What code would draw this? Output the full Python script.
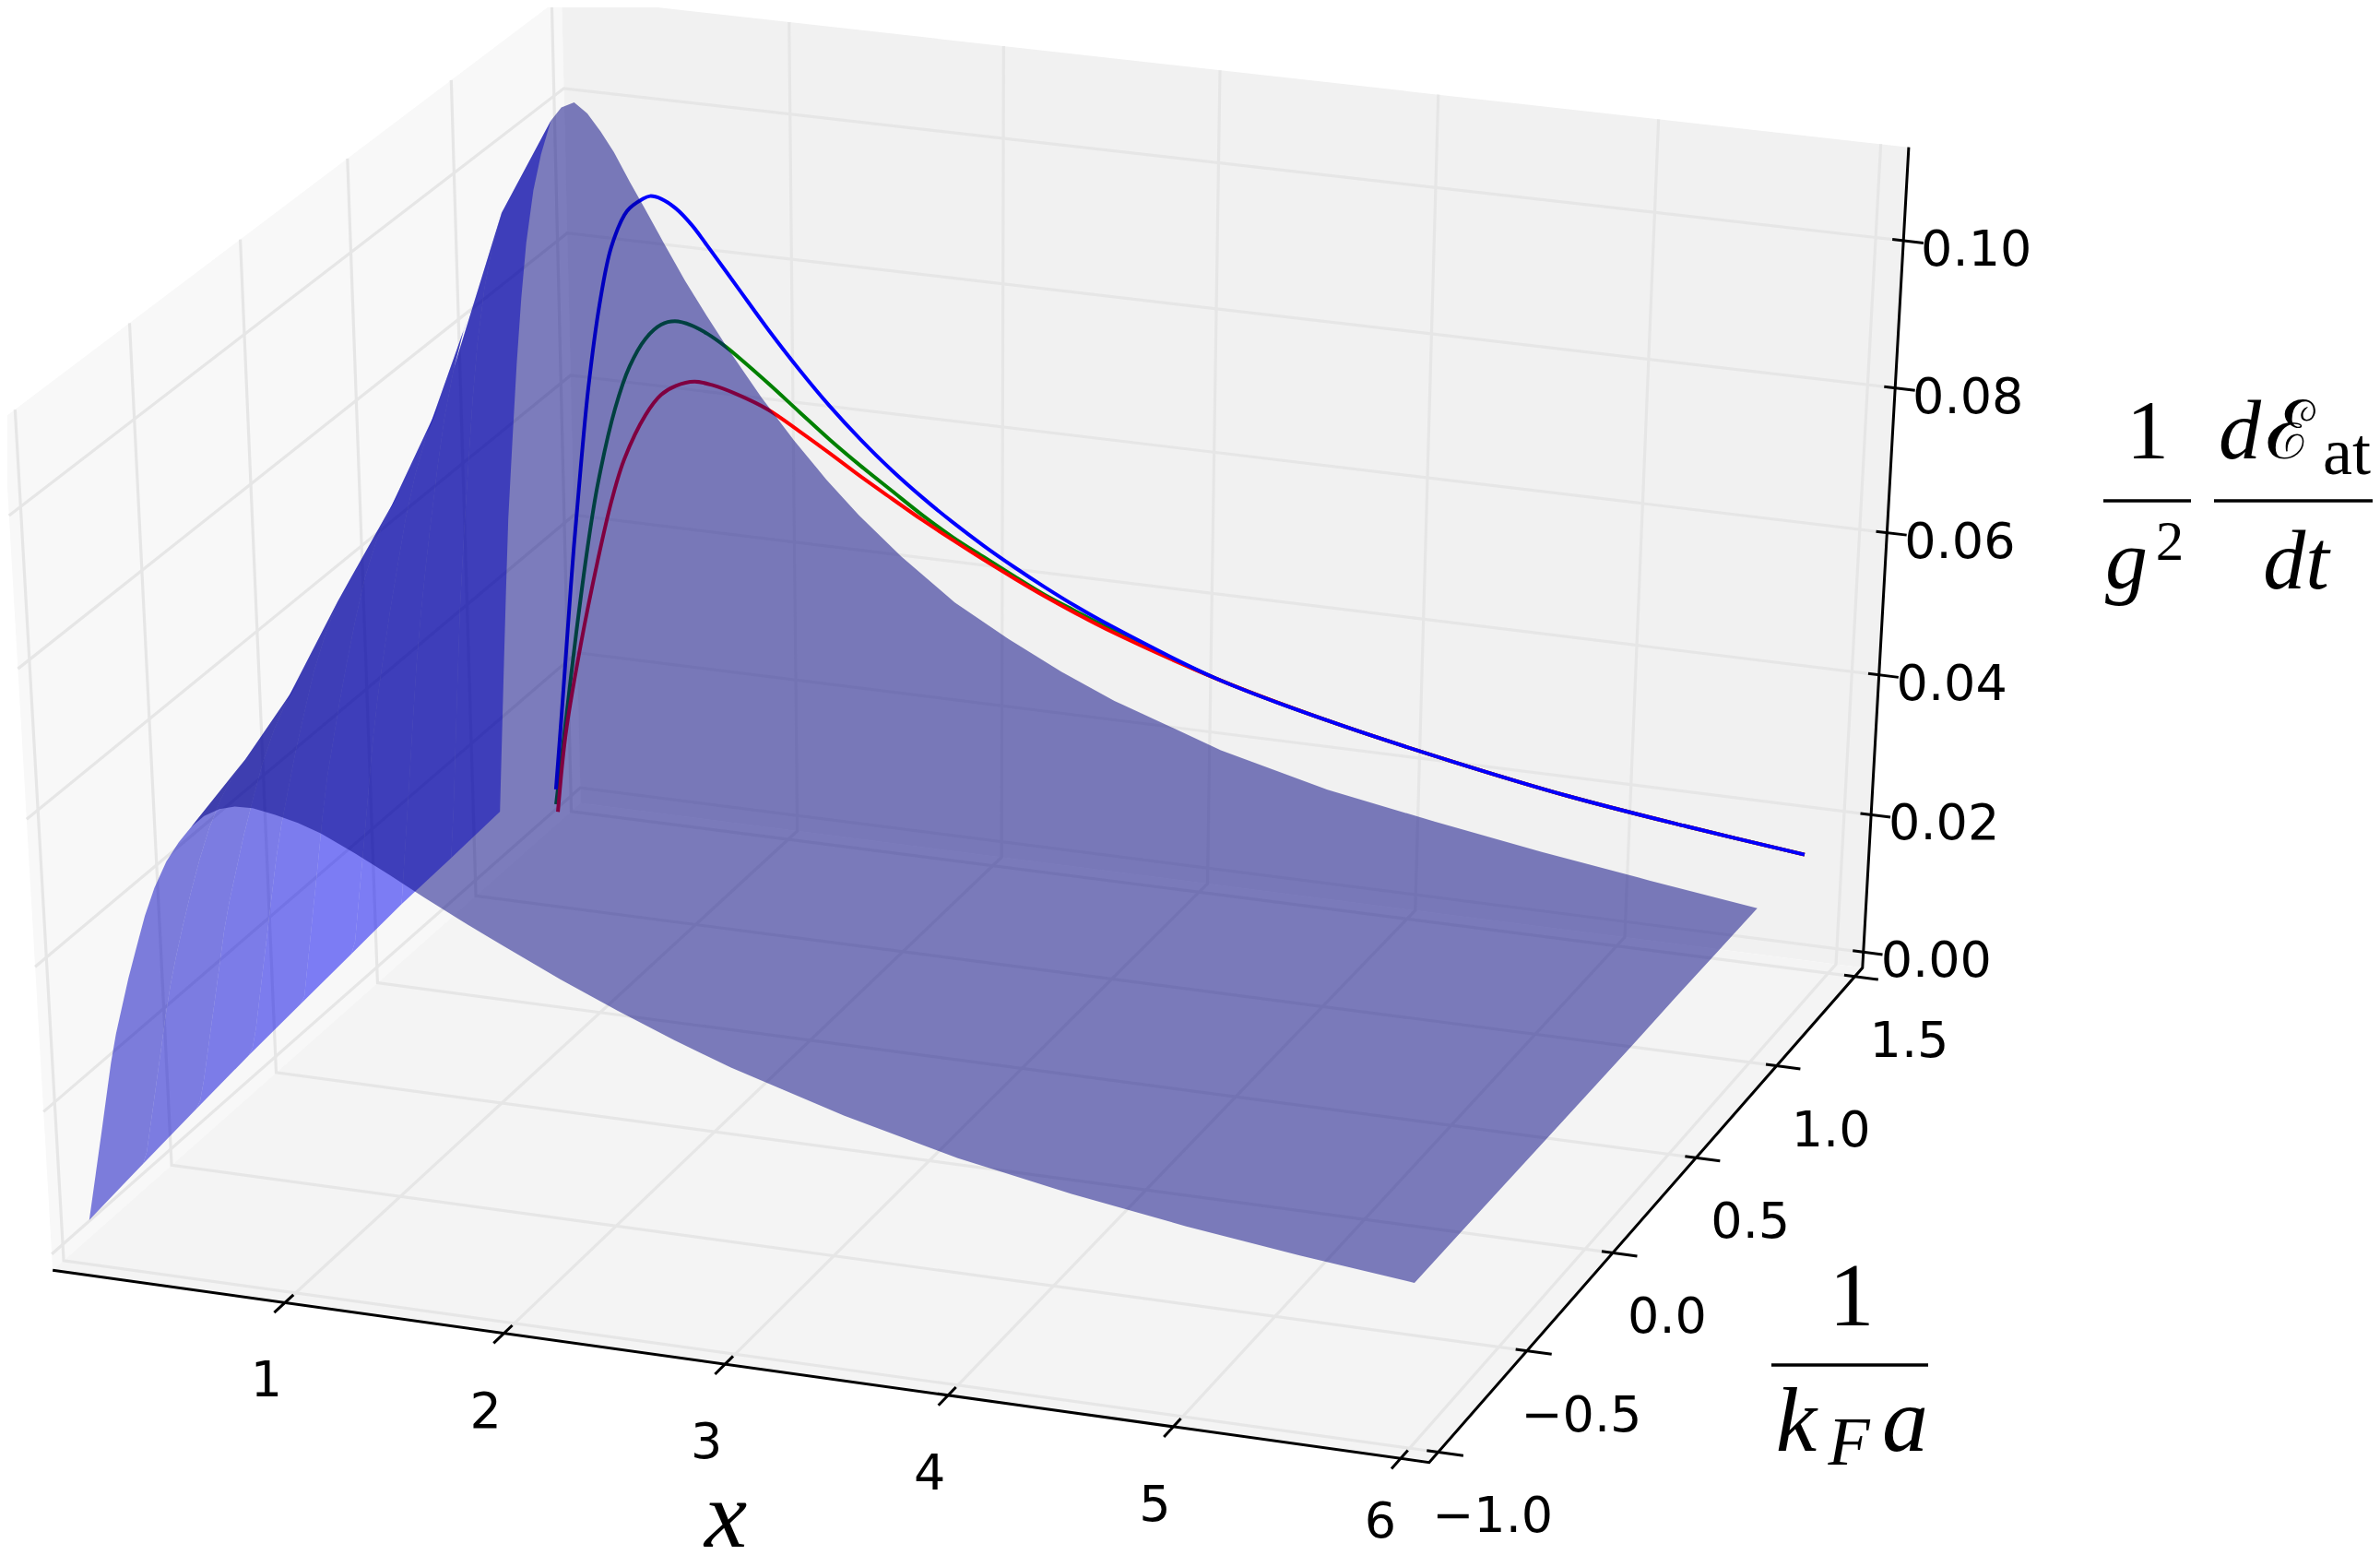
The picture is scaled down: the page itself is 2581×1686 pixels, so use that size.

import numpy as np, pandas as pd, altair as alt

# ---------- data ----------
X_NODES = [0.06,0.08,0.10,0.12,0.14,0.17,0.20,0.23,0.26,0.30,0.34,0.39,0.44,0.50,0.56,0.62,0.68,0.75,0.82,0.90,1.0,1.1,1.2,1.35,1.5,1.65,1.8,2.0,2.25,2.5,2.75,3.0,3.5,4,4.5,5,5.5,6]
Y_ROWS = [-1,-0.75,-0.5,-0.25,0,0.25,0.5,0.75,1]
Z_M1   = [4.0,7.2,10.4,13.6,16.8,21.7,26.6,30.7,34.1,38.6,42.6,47.5,51.5,55.3,58.1,60.4,62.1,63.3,63.9,64.0,63.5,62.8,61.8,59.7,57.4,55.0,52.7,49.8,46.3,43.1,40.1,37.4,32.9,29.2,26.4,24.1,22.2,20.6]
Z_M075 = [5.2,7.0,10.3,13.5,16.8,21.7,26.7,31.1,34.9,39.5,43.8,48.8,53.2,57.5,60.8,63.3,65.4,67.1,68.0,68.5,68.3,67.3,65.8,63.0,60.0,56.8,53.8,50.2,46.3,43.0,39.9,37.3,32.7,29.2,26.4,24.2,22.1,20.5]
Z_M05  = [6.3,7.6,10.3,13.6,17.0,22.0,27.1,32.2,36.3,41.0,45.7,50.9,55.9,60.7,64.7,67.6,70.0,72.2,73.5,74.3,74.6,73.0,71.0,67.2,62.8,58.5,55.0,50.6,46.4,43.0,39.9,37.2,32.6,29.1,26.4,24.2,22.0,20.4]
Z_M025 = [7.3,8.5,11.4,15.2,19.0,24.6,30.3,35.9,40.6,45.8,51.0,56.8,62.4,67.7,72.2,75.4,78.1,80.6,82.0,82.9,83.2,81.0,78.0,72.5,67.0,62.0,57.5,51.5,46.7,43.2,40.1,37.2,32.5,29.1,26.4,24.1,22.0,20.3]
Z_0    = [8.1,9.3,13.6,17.8,22.2,28.6,35.3,41.0,45.5,51.5,57.0,63.4,69.2,74.5,78.5,81.8,84.3,86.3,87.3,87.7,87.2,84.0,80.0,73.5,67.5,62.0,57.6,52.2,47.1,43.4,40.2,37.2,32.5,29.1,26.4,24.1,22.0,20.2]
Z_P025 = [8.9,10.8,15.6,20.4,25.2,32.6,39.9,46.0,51.2,57.9,63.9,71.3,77.3,83.0,87.2,90.6,93.2,95.0,95.9,96.0,94.0,89.5,84.5,77.0,70.0,64.0,59.0,53.0,47.5,43.5,40.3,37.3,32.5,29.0,26.3,24.1,21.9,20.1]
Z_P05  = [9.7,16.0,22.2,28.5,35.0,44.2,51.8,58.4,64.5,72.3,79.2,86.0,91.2,96.0,99.5,101.4,102.2,102.4,101.6,99.0,94.5,89.5,85.0,78.0,71.0,65.5,60.0,53.5,48.0,43.8,40.5,37.3,32.5,29.0,26.4,24.1,21.9,20.1]
Z_P075 = [10.1,17.7,27.4,37.0,46.2,56.9,66.4,75.7,83.4,91.0,96.5,101.5,104.6,106.9,107.6,108.0,107.4,105.5,102.8,99.0,92.0,86.5,81.5,75.0,69.0,63.8,59.0,53.4,48.4,44.1,40.7,37.5,32.6,29.0,26.4,24.1,21.9,20.0]
Z_P1   = [10.6,21.5,32.4,43.0,53.0,64.1,74.8,84.0,91.6,98.9,103.9,108.6,110.5,111.4,110.1,107.9,105.3,101.6,98.1,94.0,89.0,84.5,80.2,74.2,68.8,63.9,59.5,54.4,48.9,44.7,41.0,37.8,32.7,29.0,26.4,24.0,21.9,19.9]

CURVE_Y = 1.3
BLUE_X = [0.048,0.085,0.120,0.164,0.208,0.252,0.314,0.376,0.454,0.529,0.564,0.616,0.685,0.758,0.830,0.971,1.112,1.258,1.401,1.544,1.691,1.835,1.979,2.127,2.272,2.416,2.565,2.709,3.230,3.784,4.341,4.893,5.446,5.997]
BLUE_Z = [6.4,17.5,28.5,42.0,54.0,65.0,76.8,85.0,90.2,92.1,92.6,92.4,91.3,89.3,86.7,81.4,76.1,71.0,66.4,62.3,58.5,55.2,52.2,49.4,46.9,44.6,42.4,40.5,34.6,30.4,27.0,24.1,21.9,20.0]
GREEN_X = [0.047,0.097,0.165,0.231,0.287,0.378,0.452,0.530,0.605,0.671,0.750,0.824,0.910,0.967,1.109,1.256,1.400,1.543,1.691,1.835,1.979,2.127,2.272,2.416,2.565,2.709,3.230,3.784,4.341,4.893,5.446,5.997]
GREEN_Z = [4.2,15.0,29.5,42.3,51.5,62.5,68.7,72.8,75.0,75.7,75.4,74.5,73.0,71.8,68.6,65.1,61.7,58.6,55.6,52.7,50.1,47.8,45.6,43.5,41.7,40.0,34.6,30.4,27.0,24.1,21.9,20.0]
RED_X = [0.055,0.103,0.186,0.278,0.352,0.417,0.523,0.599,0.670,0.759,0.846,0.964,1.108,1.255,1.399,1.543,1.691,1.835,1.979,2.128,2.272,2.416,2.565,2.709,3.230,3.784,4.341,4.893,5.446,5.997]
RED_Z = [3.1,14.8,28.0,40.5,49.4,55.5,62.1,65.2,66.7,67.6,67.4,66.5,64.9,62.4,59.8,57.1,54.5,52.0,49.7,47.4,45.3,43.3,41.4,39.7,34.6,30.4,27.0,24.1,21.9,20.0]

X_TICKS = [1,2,3,4,5,6]
Y_TICKS = [-1,-0.5,0,0.5,1,1.5]
Z_TICKS = [0,0.02,0.04,0.06,0.08,0.10]
Y_LABELS = ["\u22121.0","\u22120.5","0.0","0.5","1.0","1.5"]
Z_LABELS = ["0.00","0.02","0.04","0.06","0.08","0.10"]
XL,XH,YL,YH,ZL,ZH = -0.07,6.125,-1.05,1.55,-0.0023,0.1125

# camera of the 3D box
CAM = np.array([[226.637138,232.868044,-452.823569,314.703321],
                [25.640463,-161.682622,-7991.760865,1147.889764],
                [-0.004374,0.031029,-0.43441,1.0]])
def proj(x,y,z):
    h = CAM @ np.array([x,y,z,1.0])
    return float(h[0]/h[2]), float(h[1]/h[2])

W,H = 2573,1678
sx = alt.Scale(domain=[8,W],nice=False,zero=False)
sy = alt.Scale(domain=[H,8],nice=False,zero=False)
ex = alt.X('u:Q',scale=sx,axis=None)
ey = alt.Y('v:Q',scale=sy,axis=None)

def poly_rows(polys):
    rows=[]
    for k,(pts,c) in enumerate(polys):
        for i,(u,v) in enumerate(pts):
            rows.append(dict(u=u,v=v,i=i,id=k,c=c))
    return pd.DataFrame(rows)

def fill_layer(polys,op):
    return alt.Chart(poly_rows(polys)).mark_line(interpolate='linear-closed',strokeWidth=0,strokeOpacity=0,fillOpacity=op).encode(
        x=ex,y=ey,order=alt.Order('i:Q'),detail='id:N',fill=alt.Fill('c:N',scale=None))

def line_layer(paths,color,width,interp='linear'):
    rows=[]
    for k,pts in enumerate(paths):
        for i,(u,v) in enumerate(pts):
            rows.append(dict(u=u,v=v,i=i,id=k))
    return alt.Chart(pd.DataFrame(rows)).mark_line(color=color,strokeWidth=width,interpolate=interp,strokeCap='butt').encode(
        x=ex,y=ey,order=alt.Order('i:Q'),detail='id:N')

panes = [
 ([proj(XL,YL,ZL),proj(XL,YH,ZL),proj(XL,YH,ZH),proj(XL,YL,ZH)],'#f8f8f8'),
 ([proj(XL,YH,ZL),proj(XH,YH,ZL),proj(XH,YH,ZH),proj(XL,YH,ZH)],'#f1f1f1'),
 ([proj(XL,YL,ZL),proj(XH,YL,ZL),proj(XH,YH,ZL),proj(XL,YH,ZL)],'#f4f4f4'),
]
grid=[]
for x in X_TICKS:
    grid.append([proj(x,YL,ZL),proj(x,YH,ZL),proj(x,YH,ZH)])
for y in Y_TICKS:
    grid.append([proj(XH,y,ZL),proj(XL,y,ZL),proj(XL,y,ZH)])
for z in Z_TICKS:
    grid.append([proj(XL,YL,z),proj(XL,YH,z),proj(XH,YH,z)])
axes=[[proj(XL,YL,ZL),proj(XH,YL,ZL),proj(XH,YH,ZL),proj(XH,YH,ZH)]]
for x in X_TICKS:
    axes.append([proj(x,YL-0.05,ZL),proj(x,YL+0.04,ZL)])
for y in Y_TICKS:
    axes.append([proj(XH-0.05,y,ZL),proj(XH+0.11,y,ZL)])
for z in Z_TICKS:
    axes.append([proj(XH-0.05,YH,z),proj(XH+0.09,YH,z)])

# surface
Z = np.array([Z_M1,Z_M075,Z_M05,Z_M025,Z_0,Z_P025,Z_P05,Z_P075,Z_P1])/1000.0
P = [[proj(X_NODES[i],Y_ROWS[j],Z[j,i]) for i in range(len(X_NODES))] for j in range(len(Y_ROWS))]
n,m = len(X_NODES),len(Y_ROWS)
def area(j,i):
    q=[P[j][i],P[j][i+1],P[j+1][i+1],P[j+1][i]]
    return sum(q[k][0]*q[(k+1)%4][1]-q[(k+1)%4][0]*q[k][1] for k in range(4))/2
orient = area(0,n-2)
fold=[]
for j in range(m-1):
    s=n-2
    while s>0 and area(j,s-1)*orient>0:
        s-=1
    fold.append(s)
under=[]
for j in range(m-1):
    s=fold[j]
    b=int(190+50*min(1,(Y_ROWS[j]+1)/1.0))
    under.append((P[j][:s+1]+P[j+1][:s+1][::-1],f'rgb(0,0,{b})'))
top=list(P[0][fold[0]:])
for j in range(1,m):
    top.append(P[j][n-1])
top += P[m-1][fold[m-2]:][::-1][1:]
for j in range(m-2,-1,-1):
    top.append(P[j+1][fold[j]])
    top.append(P[j][fold[j]])
    if j>0 and fold[j-1]!=fold[j]:
        a,b=sorted((fold[j],fold[j-1]))
        seg=P[j][a:b+1]
        top+= seg if fold[j]<fold[j-1] else seg[::-1]
surface_top=[(top,'rgb(0,0,128)')]

def curve(xs,zs):
    return [proj(a,CURVE_Y,b/1000.0) for a,b in zip(xs,zs)]

def tick_text(labels,pts,dx,dy):
    df=pd.DataFrame(dict(u=[p[0] for p in pts],v=[p[1] for p in pts],t=labels))
    return alt.Chart(df).mark_text(font='DejaVu Sans',fontSize=54,dx=dx,dy=dy,align='center',baseline='middle',color='black').encode(x=ex,y=ey,text='t:N')

MATH = [
 ("x",787,1677,104,"italic","Liberation Serif"),
 ("1",2008,1437,98,"normal","Liberation Serif"),
 ("k",1948,1573,100,"italic","Liberation Serif"),
 ("F",2005,1588,74,"italic","Liberation Serif"),
 ("a",2066,1573,100,"italic","Liberation Serif"),
 ("1",2329,497,92,"normal","Liberation Serif"),
 ("g",2306,638,92,"italic","Liberation Serif"),
 ("2",2353,607,61,"normal","Liberation Serif"),
 ("d",2429,497,92,"italic","Liberation Serif"),
 ("\u2130",2483,497,88,"normal","DejaVu Serif"),
 ("at",2545,514,72,"normal","Liberation Serif"),
 ("dt",2490,638,92,"italic","Liberation Serif"),
]
RULES = [(1921,2091,1480),(2281,2376,543),(2401,2573,543)]

math_layers=[]
for t,u,v,size,style,font in MATH:
    math_layers.append(alt.Chart(pd.DataFrame([dict(u=u,v=v,t=t)])).mark_text(
        font=font,fontSize=size,fontStyle=style,align='center',baseline='alphabetic',color='black').encode(x=ex,y=ey,text='t:N'))
rule_df=pd.DataFrame([dict(u=a,u2=b,v=c) for a,b,c in RULES])
rules=alt.Chart(rule_df).mark_rule(color='black',strokeWidth=3.5).encode(x=ex,x2='u2:Q',y=ey)

chart = alt.layer(
    fill_layer(panes,1.0),
    line_layer(grid,'#e6e6e6',3.2),
    line_layer(axes,'black',3.0),
    fill_layer(under,0.5),
    line_layer([curve(GREEN_X,GREEN_Z)],'#008000',4,'catmull-rom'),
    line_layer([curve(RED_X,RED_Z)],'#ff0000',4,'catmull-rom'),
    line_layer([curve(BLUE_X,BLUE_Z)],'#0000ff',4,'catmull-rom'),
    fill_layer(surface_top,0.5),
    tick_text([str(t) for t in X_TICKS[:-1]],[proj(x,YL,ZL) for x in X_TICKS[:-1]],-20,86),
    tick_text([str(X_TICKS[-1])],[proj(X_TICKS[-1],YL,ZL)],-22,70),
    tick_text(Y_LABELS,[proj(XH,y,ZL) for y in Y_TICKS],59,71),
    tick_text(Z_LABELS,[proj(XH,YH,z) for z in Z_TICKS],79,11),
    rules,
    *math_layers
).properties(width=W-8,height=H-8,padding=0,autosize=alt.AutoSizeParams(type='none')).configure_view(stroke=None)
chart.save("out.html", embed_options={"renderer":"svg","actions":False})
